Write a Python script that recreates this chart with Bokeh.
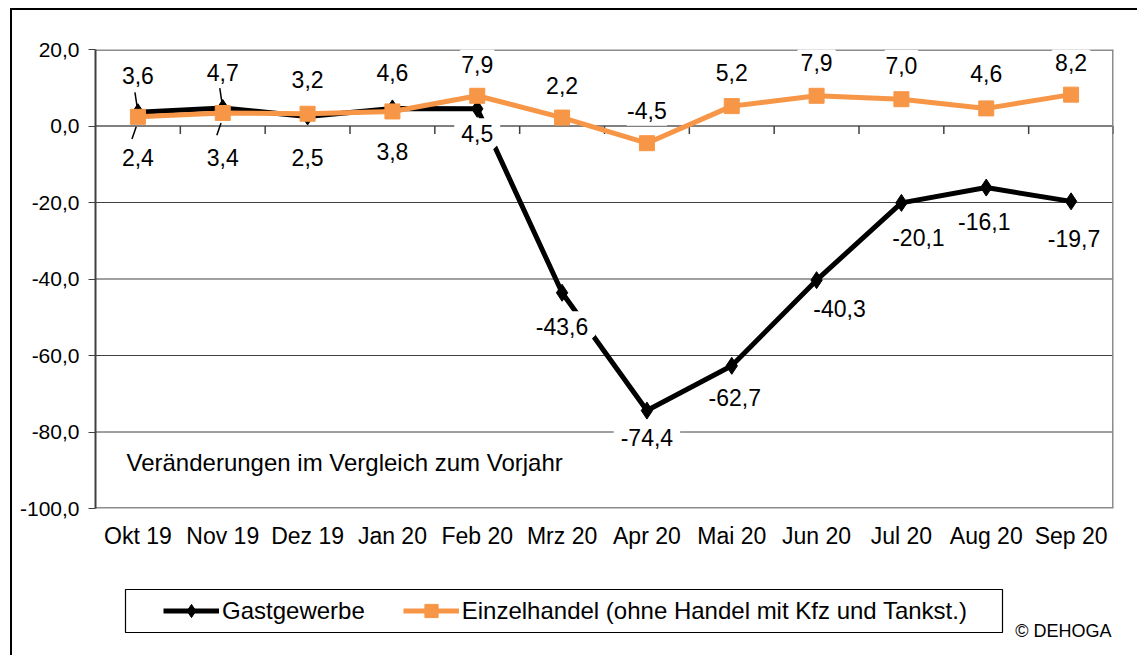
from bokeh.plotting import figure
from bokeh.layouts import column
from bokeh.models import (ColumnDataSource, LabelSet, Label, Span, FixedTicker,
                          Legend, LegendItem, BoxAnnotation)
from bokeh.core.properties import value
from bokeh.embed import file_html
from bokeh.resources import INLINE

months = ["Okt 19", "Nov 19", "Dez 19", "Jan 20", "Feb 20", "Mrz 20",
          "Apr 20", "Mai 20", "Jun 20", "Jul 20", "Aug 20", "Sep 20"]
gastgewerbe = [3.6, 4.7, 2.5, 4.6, 4.5, -43.6, -74.4, -62.7, -40.3, -20.1, -16.1, -19.7]
einzelhandel = [2.4, 3.4, 3.2, 3.8, 7.9, 2.2, -4.5, 5.2, 7.9, 7.0, 4.6, 8.2]
y_ticks = [-100, -80, -60, -40, -20, 0, 20]
series_names = ["Gastgewerbe", "Einzelhandel (ohne Handel mit Kfz und Tankst.)"]

# label offsets (style): pixels, positive = up
g_dx = [0, 0, 0, 0, 0, 0, 0, 3, 23, 17, -2, 3]
g_dy = [37, 36, -41, 36, -25, -34, -27, -32, -28, -35, -34, -37]
e_dx = [0] * 12
e_dy = [-41, -45, 34, -40, 31, 32, 33, 34, 33, 34, 35, 32]

FONT = "Liberation Sans"
BLACK = "black"
ORANGE = "#F79646"


def fmt(v):
    return f"{v:.1f}".replace(".", ",")


x = list(range(len(months)))

p = figure(width=1125, height=550, output_backend="svg", toolbar_location=None,
           x_range=(-0.5, len(months) - 0.5), y_range=(y_ticks[0], y_ticks[-1]),
           min_border_left=83, min_border_right=24, min_border_top=39,
           min_border_bottom=52)
p.outline_line_color = None
p.xgrid.visible = False
p.ygrid.visible = False

# axes
p.yaxis.ticker = FixedTicker(ticks=y_ticks)
p.yaxis.major_label_overrides = {t: fmt(t) for t in y_ticks}
p.yaxis.axis_line_color = "#404040"
p.yaxis.axis_line_width = 2
p.yaxis.major_tick_line_color = "#404040"
p.yaxis.major_tick_out = 7
p.yaxis.major_tick_in = 0
p.yaxis.minor_tick_line_color = None
p.yaxis.major_label_text_font = FONT
p.yaxis.major_label_text_font_size = "21px"
p.yaxis.major_label_text_color = "black"
p.yaxis.major_label_standoff = 9

p.xaxis.ticker = FixedTicker(ticks=x)
p.xaxis.major_label_overrides = {i: m for i, m in enumerate(months)}
p.xaxis.axis_line_color = None
p.xaxis.major_tick_line_color = None
p.xaxis.minor_tick_line_color = None
p.xaxis.major_label_text_font = FONT
p.xaxis.major_label_text_font_size = "23px"
p.xaxis.major_label_text_color = "black"
p.xaxis.major_label_standoff = 8

# grid / frame lines
for t in y_ticks[1:-2]:
    p.add_layout(Span(location=t, dimension="width", line_color="#404040",
                      line_width=1, level="underlay"))
p.add_layout(Span(location=0, dimension="width", line_color="#808080",
                  line_width=2, level="underlay"))
p.add_layout(Span(location=y_ticks[-1], dimension="width", line_color="#8c8c8c",
                  line_width=3, level="underlay"))
p.add_layout(Span(location=y_ticks[0], dimension="width", line_color="#8c8c8c",
                  line_width=3, level="underlay"))
p.add_layout(Span(location=len(months) - 0.5, dimension="height", line_color="#8c8c8c",
                  line_width=3, level="underlay"))

# category boundary ticks on the zero line
bounds = [i - 0.5 for i in range(1, len(months) + 1)]
p.segment(x0=bounds, y0=[0] * len(bounds), x1=bounds, y1=[-2.1] * len(bounds),
          line_color="#404040", line_width=1.5)

# leader lines for the first two months
lead = [0, 1]
p.segment(x0=[i - 0.035 for i in lead], y0=[gastgewerbe[i] + 5.2 for i in lead],
          x1=lead, y1=[gastgewerbe[i] for i in lead], line_color="black", line_width=1.5)
p.segment(x0=[i - 0.07 for i in lead], y0=[einzelhandel[i] - 5.8 for i in lead],
          x1=[i - 0.02 for i in lead], y1=[einzelhandel[i] - 2.6 for i in lead],
          line_color="black", line_width=1.5)

# series
p.line(x, gastgewerbe, line_color=BLACK, line_width=5)
p.scatter(x, gastgewerbe, marker="diamond", size=17, color=BLACK)
p.line(x, einzelhandel, line_color=ORANGE, line_width=5)
p.scatter(x, einzelhandel, marker="square", size=15, color=ORANGE)

# data labels
src_g = ColumnDataSource(dict(x=x, y=gastgewerbe, t=[fmt(v) for v in gastgewerbe],
                              dx=g_dx, dy=g_dy))
src_e = ColumnDataSource(dict(x=x, y=einzelhandel, t=[fmt(v) for v in einzelhandel],
                              dx=e_dx, dy=e_dy))
for src in (src_e, src_g):
    p.add_layout(LabelSet(x="x", y="y", text="t", source=src, x_offset="dx", y_offset="dy",
                          text_align="center", text_baseline="middle",
                          text_font=value(FONT), text_font_size=value("23px"),
                          text_color="black",
                          background_fill_color="white",
                          border_line_color="white", border_line_width=14))

p.add_layout(Label(x=31, y=46, x_units="screen", y_units="screen",
                   text="Veränderungen im Vergleich zum Vorjahr",
                   text_font=FONT, text_font_size="24px", text_baseline="middle",
                   text_color="black"))

# ---- legend strip below the chart (frame aligned with the chart's frame) ----
p2 = figure(width=1125, height=95, output_backend="svg", toolbar_location=None,
            x_axis_type=None, y_axis_type=None, x_range=(-1000, -999),
            y_range=(-1000, -999), min_border=0)
p2.outline_line_color = None
p2.grid.visible = False

p2.add_layout(BoxAnnotation(left=30, right=907, bottom=23, top=66,
                            left_units="screen", right_units="screen",
                            bottom_units="screen", top_units="screen",
                            fill_color="white", fill_alpha=1,
                            line_color="black", line_alpha=1, line_width=1.2,
                            level="underlay"))

# same series drawn out of view, so the legend can show their glyphs
l1 = p2.line(x, gastgewerbe, line_color=BLACK, line_width=5)
m1 = p2.scatter(x, gastgewerbe, marker="diamond", size=13, color=BLACK)
l2 = p2.line(x, einzelhandel, line_color=ORANGE, line_width=5)
m2 = p2.scatter(x, einzelhandel, marker="square", size=13, color=ORANGE)

legend = Legend(items=[LegendItem(label=series_names[0], renderers=[l1, m1]),
                       LegendItem(label=series_names[1], renderers=[l2, m2])],
                orientation="horizontal", location=(68, 28),
                label_text_font=FONT, label_text_font_size="24px",
                label_text_color="black",
                glyph_width=56, glyph_height=33, label_standoff=3, spacing=38,
                padding=0, margin=0, border_line_color=None,
                background_fill_alpha=0)
p2.add_layout(legend)

p2.add_layout(Label(x=1016, y=25, x_units="screen", y_units="screen",
                    text="© DEHOGA", text_font=FONT, text_font_size="18px",
                    text_baseline="middle", text_align="right", text_color="black"))

root = column(p, p2, spacing=0,
              styles={"margin-left": "10px", "margin-top": "8px",
                      "border-left": "2px solid black", "border-top": "2px solid black"})

open("out.html", "w").write(file_html(root, INLINE))
